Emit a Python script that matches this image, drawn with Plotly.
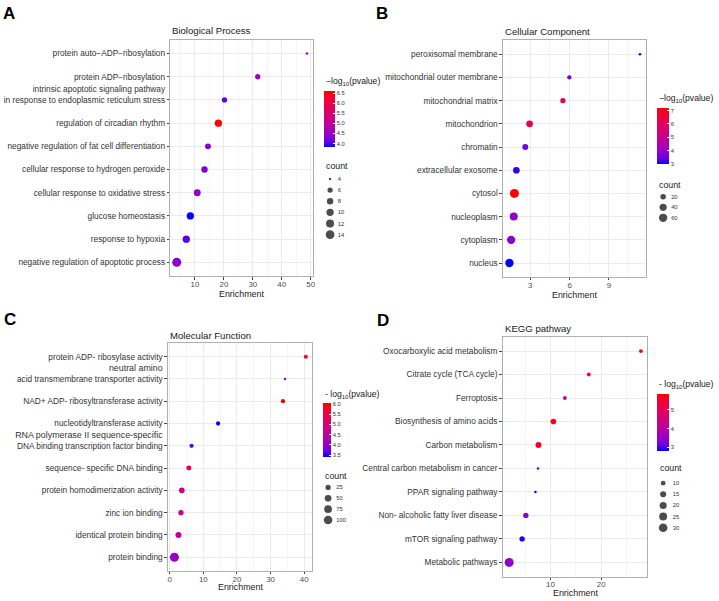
import math
import plotly.graph_objects as go

W, H = 719, 601
FONT = "Liberation Sans"

# ---------------- data ----------------
# A  Biological Process (top -> bottom)
bp_terms = ["protein auto−ADP−ribosylation",
            "protein ADP−ribosylation",
            "intrinsic apoptotic signaling pathway<br>in response to endoplasmic reticulum stress<br> ",
            "regulation of circadian rhythm",
            "negative regulation of fat cell differentiation",
            "cellular response to hydrogen peroxide",
            "cellular response to oxidative stress",
            "glucose homeostasis",
            "response to hypoxia",
            "negative regulation of apoptotic process"]
bp_enrichment = [48.7, 31.7, 20.2, 18.1, 14.5, 13.3, 10.8, 8.4, 7.0, 3.7]
bp_logp = [4.43, 4.57, 4.07, 6.60, 4.32, 4.24, 4.43, 3.82, 4.05, 4.38]
bp_count = [4, 6, 6, 10, 7, 8, 9, 10, 10, 15]
bp_xticks = [10, 20, 30, 40, 50]
bp_cticks = [4.0, 4.5, 5.0, 5.5, 6.0, 6.5]
bp_sbreaks = [4, 6, 8, 10, 12, 14]

# B  Cellular Component
cc_terms = ["peroxisomal membrane", "mitochondrial outer membrane", "mitochondrial matrix",
            "mitochondrion", "chromatin", "extracellular exosome", "cytosol",
            "nucleoplasm", "cytoplasm", "nucleus"]
cc_enrichment = [11.37, 5.98, 5.49, 2.95, 2.62, 1.94, 1.79, 1.74, 1.54, 1.41]
cc_logp = [3.05, 3.63, 6.00, 6.20, 3.55, 3.17, 7.20, 3.95, 3.78, 3.00]
cc_count = [5, 10, 17, 33, 24, 33, 72, 53, 58, 60]
cc_xticks = [3, 6, 9]
cc_cticks = [3, 4, 5, 6, 7]
cc_sbreaks = [20, 40, 60]

# C  Molecular Function
mf_terms = ["protein ADP- ribosylase activity",
            "<span style='font-size:8.9px'>neutral amino</span><br>acid transmembrane transporter activity<br> ",
            "NAD+ ADP- ribosyltransferase activity",
            "nucleotidyltransferase activity",
            "<span style='font-size:8.9px'>RNA polymerase II sequence-specific</span><br>DNA binding transcription factor binding<br> ",
            "sequence- specific DNA binding",
            "protein homodimerization activity",
            "zinc ion binding",
            "identical protein binding",
            "protein binding"]
mf_enrichment = [40.5, 34.3, 33.7, 14.4, 6.5, 5.7, 3.6, 3.35, 2.6, 1.4]
mf_logp = [5.85, 3.92, 6.03, 3.39, 3.63, 5.40, 4.75, 4.62, 4.60, 4.02]
mf_count = [11, 5, 13, 13, 13, 21, 32, 25, 37, 115]
mf_xticks = [0, 10, 20, 30, 40]
mf_cticks = [3.5, 4.0, 4.5, 5.0, 5.5, 6.0]
mf_sbreaks = [25, 50, 75, 100]

# D  KEGG pathway
kg_terms = ["Oxocarboxylic acid metabolism", "Citrate cycle (TCA cycle)", "Ferroptosis",
            "Biosynthesis of amino acids", "Carbon metabolism",
            "Central carbon metabolism in cancer", "PPAR signaling pathway",
            "Non- alcoholic fatty liver disease", "mTOR signaling pathway", "Metabolic pathways"]
kg_enrichment = [27.84, 17.57, 12.86, 10.59, 7.65, 7.57, 7.06, 5.16, 4.43, 1.88]
kg_logp = [5.85, 5.10, 4.00, 5.70, 5.55, 3.10, 2.80, 3.47, 2.92, 3.40]
kg_count = [8, 8, 8, 13, 14, 7, 7, 12, 12, 33]
kg_xticks = [10, 20]
kg_cticks = [3, 4, 5]
kg_sbreaks = [10, 15, 20, 25, 30]

# ---------------- helpers ----------------
def hex_to_lab(h):
    r, g, b = [int(h[i:i + 2], 16) / 255 for i in (1, 3, 5)]
    lin = [c / 12.92 if c <= 0.04045 else ((c + 0.055) / 1.055) ** 2.4 for c in (r, g, b)]
    X = (0.4124 * lin[0] + 0.3576 * lin[1] + 0.1805 * lin[2]) / 0.95047
    Y = (0.2126 * lin[0] + 0.7152 * lin[1] + 0.0722 * lin[2])
    Z = (0.0193 * lin[0] + 0.1192 * lin[1] + 0.9505 * lin[2]) / 1.08883
    f = lambda t: t ** (1 / 3) if t > 0.008856 else 7.787 * t + 16 / 116
    fx, fy, fz = f(X), f(Y), f(Z)
    return (116 * fy - 16, 500 * (fx - fy), 200 * (fy - fz))


def lab_to_hex(L, a, b):
    fy = (L + 16) / 116
    fx = fy + a / 500
    fz = fy - b / 200
    finv = lambda t: t ** 3 if t ** 3 > 0.008856 else (t - 16 / 116) / 7.787
    X, Y, Z = 0.95047 * finv(fx), finv(fy), 1.08883 * finv(fz)
    rl = 3.2406 * X - 1.5372 * Y - 0.4986 * Z
    gl = -0.9689 * X + 1.8758 * Y + 0.0415 * Z
    bl = 0.0557 * X - 0.2040 * Y + 1.0570 * Z
    out = []
    for c in (rl, gl, bl):
        c = min(max(c, 0), 1)
        c = 12.92 * c if c <= 0.0031308 else 1.055 * c ** (1 / 2.4) - 0.055
        out.append(int(round(min(max(c, 0), 1) * 255)))
    return "#%02x%02x%02x" % tuple(out)


lab_lo, lab_hi = hex_to_lab("#0000ff"), hex_to_lab("#ff0000")
COLORSCALE = []
for i in range(11):
    t = i / 10
    COLORSCALE.append([t, lab_to_hex(*[lab_lo[k] + (lab_hi[k] - lab_lo[k]) * t for k in range(3)])])


def px_x(a, b):
    return [a / W, b / W]


def px_y(top, bottom):
    return [1 - bottom / H, 1 - top / H]


def dot_size(c, lo, hi):
    return 2.5 + 6.5 * math.sqrt(max(c - lo, 0) / (hi - lo))


panels = [
    dict(terms=bp_terms, x=bp_enrichment, c=bp_logp, n=bp_count, xt=bp_xticks, ct=bp_cticks,
         sb=bp_sbreaks, title="Biological Process", letter="A", cbt="−log<sub>10</sub>(pvalue)",
         cfmt=".1f",
         box=(170.7, 314.3, 37.0, 276.0), title_y=28.0, xt_y=294.0, letter_xy=(1.5, 10.7),
         cb=dict(x=325, top=89, bot=145, th=11, title_y=79), cnt_title=(325, 164.3),
         leg=dict(dotx=331, labx=340.7, ys=[177.7, 234.0])),
    dict(terms=cc_terms, x=cc_enrichment, c=cc_logp, n=cc_count, xt=cc_xticks, ct=cc_cticks,
         sb=cc_sbreaks, title="Cellular Component", letter="B", cbt="−log<sub>10</sub>(pvalue)",
         cfmt="d",
         box=(504.3, 648.3, 37.7, 276.7), title_y=28.7, xt_y=295.0, letter_xy=(375.5, 10.7),
         cb=dict(x=659, top=106, bot=162.3, th=12, title_y=96.7), cnt_title=(659, 184.0),
         leg=dict(dotx=665, labx=675, ys=[195.7, 217.0])),
    dict(terms=mf_terms, x=mf_enrichment, c=mf_logp, n=mf_count, xt=mf_xticks, ct=mf_cticks,
         sb=mf_sbreaks, title="Molecular Function", letter="C", cbt="- log<sub>10</sub>(pvalue)",
         cfmt=".1f",
         box=(168.3, 313.3, 343.7, 573.3), title_y=336.0, xt_y=590.0, letter_xy=(2.5, 320.0),
         cb=dict(x=324, top=404.3, bot=458.3, th=8, title_y=395), cnt_title=(323.5, 477.3),
         leg=dict(dotx=329, labx=339.3, ys=[489.3, 522.3])),
    dict(terms=kg_terms, x=kg_enrichment, c=kg_logp, n=kg_count, xt=kg_xticks, ct=kg_cticks,
         sb=kg_sbreaks, title="KEGG pathway", letter="D", cbt="- log<sub>10</sub>(pvalue)",
         cfmt="d",
         box=(504.0, 649.3, 337.3, 579.3), title_y=328.7, xt_y=595.5, letter_xy=(376.0, 320.7),
         cb=dict(x=658.5, top=395, bot=452.3, th=12, title_y=385.7), cnt_title=(660, 470.0),
         leg=dict(dotx=665, labx=676.7, ys=[485.0, 530.0])),
]

fig = go.Figure()
layout = dict(width=W, height=H, margin=dict(l=0, r=0, t=0, b=0),
              paper_bgcolor="white", plot_bgcolor="white", showlegend=False,
              font=dict(family=FONT, color="#333333"))
annotations = []

for i, p in enumerate(panels):
    k = i + 1
    sfx = "" if k == 1 else str(k)
    ca = "coloraxis" + sfx
    x0, x1, y0, y1 = p["box"]
    lo, hi = min(p["n"]), max(p["n"])
    sizes = [dot_size(v, lo, hi) for v in p["n"]]

    fig.add_trace(go.Scatter(
        x=p["x"], y=p["terms"], mode="markers", xaxis="x" + sfx, yaxis="y" + sfx,
        marker=dict(size=sizes, color=p["c"], coloraxis=ca, line=dict(width=0), opacity=1),
        cliponaxis=False, hoverinfo="skip"))

    xmin, xmax = min(p["x"]), max(p["x"])
    span = xmax - xmin
    xr = [xmin - 0.05 * span, xmax + 0.05 * span]
    step = p["xt"][1] - p["xt"][0] if len(p["xt"]) > 1 else 10
    minor_vals = [v - step / 2 for v in p["xt"]] + [p["xt"][-1] + step / 2]
    nterm = len(p["terms"])

    layout["xaxis" + sfx] = dict(
        domain=px_x(x0, x1), anchor="y" + sfx, range=xr,
        tickmode="array", tickvals=p["xt"], ticktext=[str(v) for v in p["xt"]],
        showgrid=True, gridcolor="#ebebeb", gridwidth=0.9,
        minor=dict(tickvals=minor_vals, showgrid=True, gridcolor="#f5f5f5", gridwidth=0.5, ticks=""),
        ticks="outside", ticklen=2.5, tickwidth=0.8, tickcolor="#444444",
        ticklabelstandoff=-2,
        showline=True, mirror=True, linecolor="#b0b0b0", linewidth=1, zeroline=False,
        tickfont=dict(size=7.9, color="#4d4d4d", family=FONT))
    layout["yaxis" + sfx] = dict(
        domain=px_y(y0, y1), anchor="x" + sfx, type="category",
        categoryorder="array", categoryarray=list(reversed(p["terms"])),
        range=[-0.6, nterm - 0.4],
        showgrid=True, gridcolor="#ebebeb", gridwidth=0.9,
        ticks="outside", ticklen=2.5, tickwidth=0.8, tickcolor="#444444",
        showline=True, mirror=True, linecolor="#b0b0b0", linewidth=1, zeroline=False,
        tickfont=dict(size=8.3, color="#333333", family=FONT))

    cb = p["cb"]
    layout[ca] = dict(
        cmin=min(p["c"]), cmax=max(p["c"]), colorscale=COLORSCALE,
        colorbar=dict(
            x=cb["x"] / W, xanchor="left", y=1 - cb["top"] / H, yanchor="top",
            len=cb["bot"] - cb["top"], lenmode="pixels", thickness=cb["th"],
            thicknessmode="pixels", xpad=0, ypad=0, outlinewidth=0,
            tickmode="array", tickvals=p["ct"], tickformat=p["cfmt"],
            ticks="inside", ticklen=2, tickcolor="white", tickwidth=0.6,
            tickfont=dict(size=5.8, color="#333333", family=FONT),
            title=dict(text="")))
    annotations.append(dict(
        text=p["cbt"], x=cb["x"] / W, y=1 - cb["title_y"] / H, xref="paper", yref="paper",
        xanchor="left", yanchor="middle", showarrow=False,
        font=dict(size=8.6, color="#1a1a1a", family=FONT)))

    # size legend (count)
    leg = p["leg"]
    lk = 4 + k
    lsizes = [dot_size(v, lo, hi) for v in p["sb"]]
    nb = len(p["sb"])
    left = leg["dotx"] - 8
    right = leg["labx"] - 3
    fig.add_trace(go.Scatter(
        x=[0] * nb, y=list(range(nb)), mode="markers", xaxis="x%d" % lk, yaxis="y%d" % lk,
        marker=dict(size=lsizes, color="black", line=dict(width=0)),
        cliponaxis=False, hoverinfo="skip"))
    layout["xaxis%d" % lk] = dict(domain=px_x(left, right), anchor="y%d" % lk,
                                  range=[left - leg["dotx"], right - leg["dotx"]], visible=False,
                                  fixedrange=True)
    layout["yaxis%d" % lk] = dict(domain=px_y(leg["ys"][0], leg["ys"][1]), anchor="x%d" % lk,
                                  side="right", range=[nb - 1, 0], tickmode="array",
                                  tickvals=list(range(nb)), ticktext=[str(v) for v in p["sb"]],
                                  showgrid=False, zeroline=False, showline=False, ticks="",
                                  tickfont=dict(size=5.8, color="#333333", family=FONT),
                                  fixedrange=True)
    annotations.append(dict(
        text="count", x=p["cnt_title"][0] / W, y=1 - p["cnt_title"][1] / H,
        xref="paper", yref="paper", xanchor="left", yanchor="middle", showarrow=False,
        font=dict(size=8.8, color="#1a1a1a", family=FONT)))

    # panel title, axis title, panel letter
    annotations.append(dict(
        text=p["title"], x=x0 / W, y=1 - p["title_y"] / H, xref="paper", yref="paper",
        xanchor="left", yanchor="middle", showarrow=False,
        font=dict(size=9.6, color="#1a1a1a", family=FONT)))
    annotations.append(dict(
        text="Enrichment", x=(x0 + x1) / 2 / W, y=1 - p["xt_y"] / H, xref="paper", yref="paper",
        xanchor="center", yanchor="middle", showarrow=False,
        font=dict(size=8.9, color="#1a1a1a", family=FONT)))
    annotations.append(dict(
        text="<b>%s</b>" % p["letter"], x=p["letter_xy"][0] / W, y=1 - p["letter_xy"][1] / H,
        xref="paper", yref="paper", xanchor="left", yanchor="middle", showarrow=False,
        font=dict(size=17, color="black", family=FONT)))

layout["annotations"] = annotations
fig.update_layout(**layout)
fig.write_html("out.html",
               config={"displayModeBar": False},
               post_script="document.body.style.margin='0';document.body.style.padding='0';"
                           "document.body.style.overflow='hidden';")
